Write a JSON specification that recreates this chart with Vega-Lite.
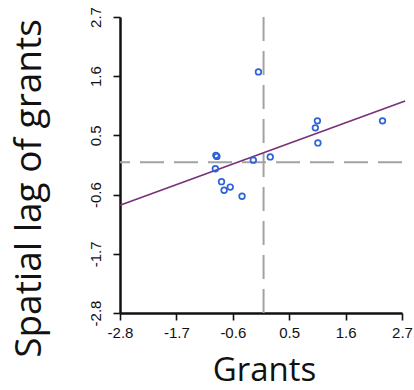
{
  "$schema": "https://vega.github.io/schema/vega-lite/v6.json",
  "autosize": "none",
  "width": 282,
  "height": 296,
  "padding": {"left": 120, "top": 17, "right": 12, "bottom": 77},
  "background": "white",
  "config": {"view": {"stroke": null}},
  "datasets": {
    "pts": [
      {"grants": -0.10, "lag": 1.68},
      {"grants": -0.93, "lag": 0.13},
      {"grants": -0.91, "lag": 0.11},
      {"grants": -0.94, "lag": -0.12},
      {"grants": -0.82, "lag": -0.36},
      {"grants": -0.77, "lag": -0.52},
      {"grants": -0.65, "lag": -0.46},
      {"grants": -0.42, "lag": -0.63},
      {"grants": -0.20, "lag": 0.04},
      {"grants": 0.13, "lag": 0.10},
      {"grants": 1.05, "lag": 0.77},
      {"grants": 1.01, "lag": 0.64},
      {"grants": 1.06, "lag": 0.36},
      {"grants": 2.32, "lag": 0.77}
    ],
    "fit": [
      {"grants": -2.8, "lag": -0.80},
      {"grants": 2.76, "lag": 1.14}
    ],
    "zero": [{"v": 0}]
  },
  "layer": [
    {
      "data": {"name": "zero"},
      "mark": {"type": "rule", "color": "#a3a3a3", "strokeWidth": 2, "strokeDash": [24, 10]},
      "encoding": {"x": {"field": "v", "type": "quantitative", "scale": {"domain": [-2.8, 2.7], "nice": false, "zero": false}}}
    },
    {
      "data": {"name": "zero"},
      "mark": {"type": "rule", "color": "#a3a3a3", "strokeWidth": 2, "strokeDash": [24, 10]},
      "encoding": {"y": {"field": "v", "type": "quantitative", "scale": {"domain": [-2.8, 2.7], "nice": false, "zero": false}}}
    },
    {
      "data": {"name": "fit"},
      "mark": {"type": "line", "color": "#7a2f78", "strokeWidth": 1.6},
      "encoding": {
        "x": {"field": "grants", "type": "quantitative"},
        "y": {"field": "lag", "type": "quantitative"}
      }
    },
    {
      "data": {"name": "pts"},
      "mark": {"type": "point", "shape": "circle", "filled": false, "color": "#2d62d8", "size": 32, "strokeWidth": 1.7, "opacity": 1},
      "encoding": {
        "x": {
          "field": "grants", "type": "quantitative",
          "scale": {"domain": [-2.8, 2.7], "nice": false, "zero": false},
          "axis": {
            "values": [-2.8, -1.7, -0.6, 0.5, 1.6, 2.7],
            "grid": false,
            "title": "Grants",
            "titleFont": "Open Sans", "titleFontSize": 33, "titleFontWeight": "normal", "titleColor": "#111",
            "titleX": 144, "titleY": 67, "titleAlign": "center", "titleBaseline": "alphabetic",
            "labelExpr": "datum.value < 0 ? '-' + format(-datum.value, '.1f') : format(datum.value, '.1f')",
            "labelFont": "Liberation Sans", "labelFontSize": 15, "labelColor": "#111", "labelPadding": 5,
            "labelFlush": false, "labelOverlap": false,
            "domainColor": "#111", "domainWidth": 2.5,
            "tickColor": "#111", "tickWidth": 1.6, "tickSize": 7
          }
        },
        "y": {
          "field": "lag", "type": "quantitative",
          "scale": {"domain": [-2.8, 2.7], "nice": false, "zero": false},
          "axis": {
            "values": [-2.8, -1.7, -0.6, 0.5, 1.6, 2.7],
            "grid": false,
            "title": "Spatial lag of grants",
            "titleFont": "Open Sans", "titleFontSize": 37, "titleFontWeight": "normal", "titleColor": "#111",
            "titleAngle": -90, "titleX": -80, "titleY": 171, "titleAlign": "center", "titleBaseline": "alphabetic",
            "labelExpr": "datum.value < 0 ? '-' + format(-datum.value, '.1f') : format(datum.value, '.1f')",
            "labelFont": "Liberation Sans", "labelFontSize": 15, "labelColor": "#111",
            "labelAngle": -90, "labelAlign": "center", "labelBaseline": "bottom", "labelPadding": 10,
            "labelFlush": false, "labelOverlap": false,
            "domainColor": "#111", "domainWidth": 2.5,
            "tickColor": "#111", "tickWidth": 1.6, "tickSize": 7
          }
        }
      }
    }
  ]
}
